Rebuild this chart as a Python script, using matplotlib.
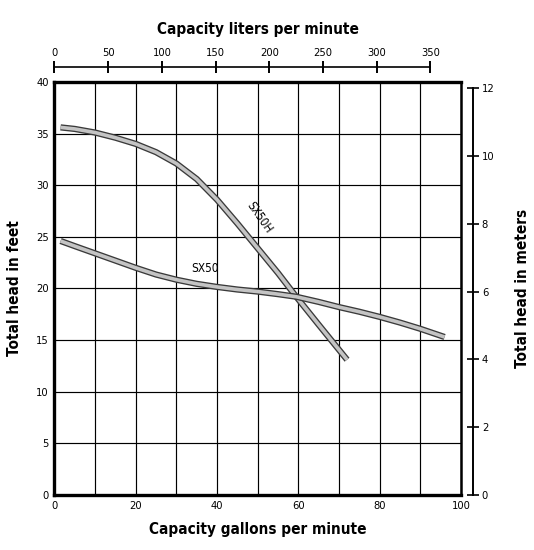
import matplotlib
matplotlib.use("Agg")
import matplotlib.pyplot as plt
import matplotlib.patheffects as pe

# pump curves, gallons per minute vs feet of head
sx50h_gpm = [1.5, 5, 10, 15, 20, 25, 30, 35, 40, 45, 50, 55, 59.5, 65, 72]
sx50h_ft = [35.6, 35.45, 35.1, 34.6, 34.0, 33.2, 32.1, 30.6, 28.6, 26.3,
            23.9, 21.5, 19.2, 16.5, 13.1]
sx50_gpm = [1.5, 5, 10, 15, 20, 25, 30, 35, 40, 45, 50, 55, 59.5, 65, 70,
            75, 80, 85, 90, 96]
sx50_ft = [24.6, 24.1, 23.4, 22.7, 22.0, 21.35, 20.85, 20.45, 20.15, 19.9,
           19.7, 19.45, 19.2, 18.7, 18.2, 17.75, 17.25, 16.7, 16.1, 15.3]

lpm_ticks = [0, 50, 100, 150, 200, 250, 300, 350]
m_ticks = [0, 2, 4, 6, 8, 10, 12]

GAL_TO_L = 3.785
FT_TO_M = 0.3048

lab = dict(family="DejaVu Sans", stretch="condensed", fontweight="bold", fontsize=11)
tick_font = dict(family="DejaVu Sans", stretch="condensed", size=8)

fig = plt.figure(figsize=(5.34, 5.5), dpi=100)
ax = fig.add_axes([0.102, 0.1, 0.761, 0.751])
ax.set_xlim(0, 100)
ax.set_ylim(0, 40)
ax.set_xticks(range(0, 101, 20))
ax.set_xticks(range(0, 101, 10), minor=True)
ax.set_yticks(range(0, 41, 5))
ax.grid(True, which="both", color="black", lw=0.85)
ax.tick_params(which="both", length=0)
ax.tick_params(axis="both", pad=4)
for s in ["left", "bottom", "top"]:
    ax.spines[s].set_linewidth(2.4)
ax.spines["right"].set_linewidth(1.8)
for t in ax.get_xticklabels() + ax.get_yticklabels():
    t.set_fontproperties(tick_font)

casing = [pe.Stroke(linewidth=4.5, foreground="#3a3a3a"), pe.Normal()]
ax.plot(sx50h_gpm, sx50h_ft, color="#c4c4c4", lw=2.6, solid_capstyle="butt",
        solid_joinstyle="round", path_effects=casing, zorder=3)
ax.plot(sx50_gpm, sx50_ft, color="#c4c4c4", lw=2.6, solid_capstyle="butt",
        solid_joinstyle="round", path_effects=casing, zorder=3)
ax.text(50.5, 26.9, "SX50H", rotation=-55, ha="center", va="center",
        family="DejaVu Sans", stretch="condensed", fontsize=8.5)
ax.text(37, 21.9, "SX50", ha="center", va="center",
        family="DejaVu Sans", stretch="condensed", fontsize=8.5)

ax.set_xlabel("Capacity gallons per minute", labelpad=8, **lab)
ax.set_ylabel("Total head in feet", labelpad=10, **lab)

# top scale, liters per minute
top = ax.twiny()
top.set_xlim(0, 100 * GAL_TO_L)
top.set_xticks(lpm_ticks)
for s in ["left", "right", "bottom"]:
    top.spines[s].set_visible(False)
top.spines["top"].set_position(("outward", 11))
top.spines["top"].set_bounds(0, 350)
top.spines["top"].set_linewidth(1.2)
top.tick_params(axis="x", direction="inout", length=9, width=1.4, pad=2)
for t in top.get_xticklabels():
    t.set_fontproperties(tick_font)
top.set_xlabel("Capacity liters per minute", labelpad=10, **lab)

# right scale, meters
right = ax.twinx()
right.set_ylim(0, 40 * FT_TO_M)
right.set_yticks(m_ticks)
for s in ["left", "top", "bottom"]:
    right.spines[s].set_visible(False)
right.spines["right"].set_position(("outward", 8.6))
right.spines["right"].set_bounds(0, 12)
right.spines["right"].set_linewidth(1.4)
right.tick_params(axis="y", direction="inout", length=9, width=1.2, pad=2)
for t in right.get_yticklabels():
    t.set_fontproperties(tick_font)
right.set_ylabel("Total head in meters", labelpad=15, **lab)

fig.savefig("out.png", dpi=100)
